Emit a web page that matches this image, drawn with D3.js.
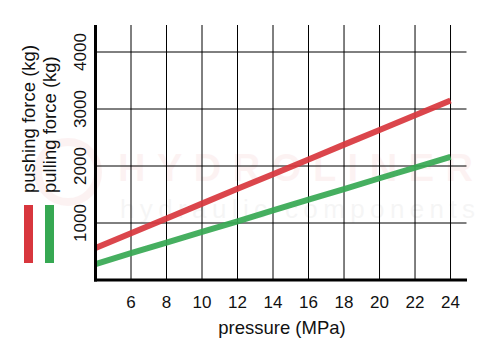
<!DOCTYPE html>
<html><head><meta charset="utf-8">
<script src="https://cdn.jsdelivr.net/npm/d3@7"></script>
<style>body{margin:0;background:#fff}svg{display:block;font-family:"Liberation Sans",Arial,sans-serif}</style>
</head><body>
<svg id="c" width="500" height="360"></svg>
<script>
const pressure = [4, 6, 8, 10, 12, 14, 16, 18, 20, 22, 24];
const pushing = [560, 820, 1080, 1340, 1600, 1855, 2115, 2375, 2630, 2890, 3150];
const pulling = [280, 470, 655, 845, 1030, 1220, 1410, 1595, 1785, 1970, 2160];
const xTicks = [6, 8, 10, 12, 14, 16, 18, 20, 22, 24];
const yTicks = [1000, 2000, 3000, 4000];
const seriesNames = ["pushing force (kg)", "pulling force (kg)"];
const seriesColors = ["#d8363d", "#36a852"];

const svg = d3.select("#c");
const x = d3.scaleLinear().domain([4, 24.9]).range([95.5, 466.5]);
const y = d3.scaleLinear().domain([0, 4000]).range([280, 52]);
const yTop = 25;

// watermark
const wm = svg.append("g").attr("opacity", 0.06);
wm.append("circle").attr("cx", 68).attr("cy", 172).attr("r", 30).attr("fill", "none").attr("stroke", "#d8363d").attr("stroke-width", 8);
wm.append("text").attr("x", 118).attr("y", 181).attr("font-size", 38).attr("font-weight", "bold").attr("fill", "#d8363d").attr("textLength", 355).text("HYDROLINER");
wm.append("text").attr("x", 120).attr("y", 218).attr("font-size", 26).attr("fill", "#666").attr("textLength", 355).text("hydraulic components");

// grid
svg.append("g").selectAll("line").data(xTicks).join("line")
  .attr("x1", d => x(d)).attr("x2", d => x(d)).attr("y1", yTop).attr("y2", 280)
  .attr("stroke", "#000").attr("stroke-width", 1);
svg.append("g").selectAll("line").data(yTicks).join("line")
  .attr("x1", 95.5).attr("x2", 466.5).attr("y1", d => y(d)).attr("y2", d => y(d))
  .attr("stroke", "#000").attr("stroke-width", 1);

// lines
const line = d3.line().x((d, i) => x(pressure[i])).y(d => y(d));
[pushing, pulling].forEach((s, i) => {
  svg.append("path").datum(s).attr("d", line).attr("fill", "none")
    .attr("stroke", seriesColors[i]).attr("stroke-width", 6).attr("opacity", 0.92);
});

// axes
svg.append("line").attr("x1", 95.5).attr("x2", 95.5).attr("y1", yTop).attr("y2", 281.5).attr("stroke", "#000").attr("stroke-width", 3);
svg.append("line").attr("x1", 94).attr("x2", 467).attr("y1", 280).attr("y2", 280).attr("stroke", "#000").attr("stroke-width", 3);

// tick labels
svg.append("g").selectAll("text").data(xTicks).join("text")
  .attr("x", d => x(d)).attr("y", 308).attr("text-anchor", "middle").attr("font-size", 17).attr("fill", "#111")
  .text(d => d);
svg.append("g").selectAll("text").data(yTicks).join("text")
  .attr("transform", d => `translate(86,${y(d)}) rotate(-90)`).attr("text-anchor", "middle").attr("font-size", 17).attr("fill", "#111")
  .text(d => d);

svg.append("text").attr("x", 282).attr("y", 334).attr("text-anchor", "middle").attr("font-size", 18.5).attr("fill", "#111").text("pressure (MPa)");

// legend
const lx = [28.5, 49.5];
seriesNames.forEach((n, i) => {
  svg.append("text").attr("transform", `translate(${lx[i] + 6},193) rotate(-90)`).attr("font-size", 18.5).attr("fill", "#111").text(n);
  svg.append("rect").attr("x", lx[i] - 4.5).attr("y", 205).attr("width", 9).attr("height", 58).attr("fill", seriesColors[i]);
});
</script>
</body></html>
